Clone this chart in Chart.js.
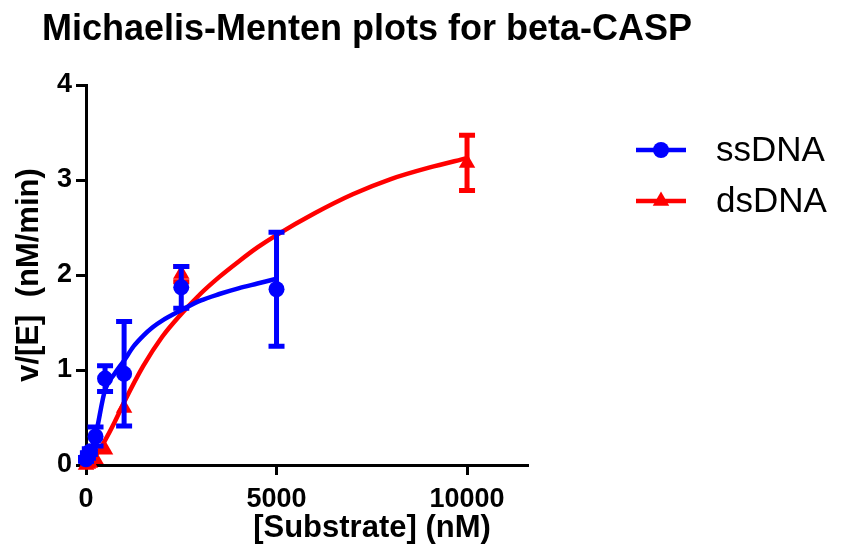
<!DOCTYPE html>
<html>
<head>
<meta charset="utf-8">
<title>Michaelis-Menten plots for beta-CASP</title>
<script src="https://cdn.jsdelivr.net/npm/chart.js@4.4.1/dist/chart.umd.min.js"></script>
<style>
  html, body { margin: 0; padding: 0; background: #ffffff; }
</style>
</head>
<body>
<canvas id="chartMM" width="841" height="556"></canvas>
<script>
// Datos
const titulo = "Michaelis-Menten plots for beta-CASP";
const tituloX = "[Substrate] (nM)";
const tituloY = "v/[E]  (nM/min)";
const nombres = ["ssDNA", "dsDNA"];

const ticksX = [0, 5000, 10000];
const ticksY = [0, 1, 2, 3, 4];

// ssDNA (azul): puntos medidos y desviación
const ssSustrato = [0, 50, 100, 250, 500, 1000, 2500, 5000];
const ssVelocidad = [0.06, 0.10, 0.14, 0.30, 0.91, 0.96, 1.87, 1.85];
const ssError = [0.02, 0.03, 0.03, 0.10, 0.135, 0.55, 0.22, 0.60];

// dsDNA (rojo): puntos medidos y desviación
const dsSustrato = [0, 50, 100, 250, 500, 1000, 2500, 10000];
const dsVelocidad = [0.0, 0.01, 0.02, 0.06, 0.16, 0.60, 2.01, 3.18];
const dsError = [0, 0, 0, 0, 0, 0, 0.08, 0.29];

// curvas de ajuste
const ssAjusteX = [0, 100, 250, 500, 750, 1000, 1250, 1500, 1750, 2000, 2500, 3000, 3500, 4000, 4500, 5000];
const ssAjusteY = [0.03, 0.12, 0.31, 0.79, 0.96, 1.10, 1.25, 1.36, 1.45, 1.52, 1.63, 1.73, 1.80, 1.86, 1.91, 1.96];
const dsAjusteX = [0, 250, 500, 750, 1000, 1500, 2000, 2500, 3000, 3500, 4000, 4500, 5000, 6000, 7000, 8000, 9000, 10000];
const dsAjusteY = [0.0, 0.10, 0.26, 0.45, 0.66, 1.04, 1.35, 1.59, 1.80, 1.98, 2.14, 2.29, 2.42, 2.65, 2.85, 3.01, 3.13, 3.23];

const azul = "#0000ff";
const rojo = "#ff0000";
const fuente = "'Liberation Sans', Arial, Helvetica, sans-serif";

function pares(xs, ys) {
    return xs.map((x, i) => ({ x: x, y: ys[i] }));
}

// barras de error dibujadas antes de los marcadores
const barrasError = {
    id: "barrasError",
    beforeDatasetDraw(chart, args) {
        const ds = chart.data.datasets[args.index];
        if (!ds.errores) return;
        const ctx = chart.ctx;
        const x = chart.scales.x, y = chart.scales.y;
        ctx.save();
        ctx.strokeStyle = ds.backgroundColor;
        ctx.lineWidth = 5;
        ctx.lineCap = "butt";
        ds.data.forEach((p, i) => {
            const e = ds.errores[i];
            if (!e) return;
            const px = x.getPixelForValue(p.x);
            const arriba = y.getPixelForValue(p.y + e);
            const abajo = y.getPixelForValue(p.y - e);
            ctx.beginPath();
            ctx.moveTo(px, arriba);
            ctx.lineTo(px, abajo);
            ctx.moveTo(px - 8, arriba);
            ctx.lineTo(px + 8, arriba);
            ctx.moveTo(px - 8, abajo);
            ctx.lineTo(px + 8, abajo);
            ctx.stroke();
        });
        ctx.restore();
    }
};

// título, título del eje X y leyenda
const textos = {
    id: "textos",
    afterDraw(chart) {
        const ctx = chart.ctx;
        ctx.save();
        ctx.fillStyle = "#000";
        ctx.textBaseline = "alphabetic";
        ctx.textAlign = "left";
        ctx.font = "bold 36px " + fuente;
        ctx.fillText(titulo, 42, 40);

        ctx.textAlign = "center";
        ctx.font = "bold 31px " + fuente;
        ctx.fillText(tituloX, 372, 537);

        const filas = [
            { nombre: nombres[0], color: azul, estilo: "circle", radio: 8, y: 150 },
            { nombre: nombres[1], color: rojo, estilo: "triangle", radio: 9.5, y: 201 }
        ];
        filas.forEach(f => {
            ctx.strokeStyle = f.color;
            ctx.fillStyle = f.color;
            ctx.lineWidth = 4.5;
            ctx.beginPath();
            ctx.moveTo(636, f.y);
            ctx.lineTo(686, f.y);
            ctx.stroke();
            Chart.helpers.drawPoint(ctx, { pointStyle: f.estilo, radius: f.radio, rotation: 0, borderWidth: 0 }, 661, f.y);
            ctx.fillStyle = "#000";
            ctx.textAlign = "left";
            ctx.textBaseline = "middle";
            ctx.font = "35px " + fuente;
            ctx.fillText(f.nombre, 716, f.y + 1);
        });
        ctx.restore();
    }
};

const ctxMM = document.getElementById("chartMM").getContext("2d");
const chartMM = new Chart(ctxMM, {
    type: "scatter",
    data: {
        datasets: [
            {
                label: nombres[0],
                data: pares(ssSustrato, ssVelocidad),
                errores: ssError,
                backgroundColor: azul,
                borderColor: azul,
                pointStyle: "circle",
                pointRadius: 8,
                pointBorderWidth: 0,
                showLine: false,
                clip: false,
                order: 0
            },
            {
                label: nombres[0] + " ajuste",
                data: pares(ssAjusteX, ssAjusteY),
                borderColor: azul,
                borderWidth: 4.5,
                pointRadius: 0,
                showLine: true,
                cubicInterpolationMode: "monotone",
                clip: false,
                order: 1
            },
            {
                label: nombres[1],
                data: pares(dsSustrato, dsVelocidad),
                errores: dsError,
                backgroundColor: rojo,
                borderColor: rojo,
                pointStyle: "triangle",
                pointRadius: 9.5,
                pointBorderWidth: 0,
                showLine: false,
                clip: false,
                order: 2
            },
            {
                label: nombres[1] + " ajuste",
                data: pares(dsAjusteX, dsAjusteY),
                borderColor: rojo,
                borderWidth: 4.5,
                pointRadius: 0,
                showLine: true,
                cubicInterpolationMode: "monotone",
                clip: false,
                order: 3
            }
        ]
    },
    options: {
        responsive: false,
        animation: false,
        events: [],
        layout: { padding: { left: 0, top: 85, right: 313, bottom: 0 } },
        plugins: {
            legend: { display: false },
            tooltip: { enabled: false },
            title: { display: false }
        },
        scales: {
            x: {
                type: "linear",
                min: 0,
                max: 11600,
                afterBuildTicks: s => { s.ticks = ticksX.map(v => ({ value: v })); },
                afterFit: s => { s.height = 91; },
                border: { display: true, color: "#000", width: 3 },
                grid: { drawOnChartArea: false, tickLength: 10, tickWidth: 3, tickColor: "#000" },
                ticks: {
                    color: "#000",
                    padding: 8,
                    maxRotation: 0,
                    callback: v => String(v),
                    font: { family: fuente, size: 27, weight: "bold" }
                },
                title: { display: false }
            },
            y: {
                type: "linear",
                min: 0,
                max: 4,
                afterBuildTicks: s => { s.ticks = ticksY.map(v => ({ value: v })); },
                afterFit: s => { s.width = 86; },
                border: { display: true, color: "#000", width: 3 },
                grid: { drawOnChartArea: false, tickLength: 10, tickWidth: 3, tickColor: "#000" },
                ticks: {
                    color: "#000",
                    padding: 4,
                    callback: v => String(v),
                    font: { family: fuente, size: 27, weight: "bold" }
                },
                title: {
                    display: true,
                    text: tituloY,
                    color: "#000",
                    padding: { top: 11, bottom: 0 },
                    font: { family: fuente, size: 31, weight: "bold" }
                }
            }
        }
    },
    plugins: [barrasError, textos]
});
</script>
</body>
</html>
